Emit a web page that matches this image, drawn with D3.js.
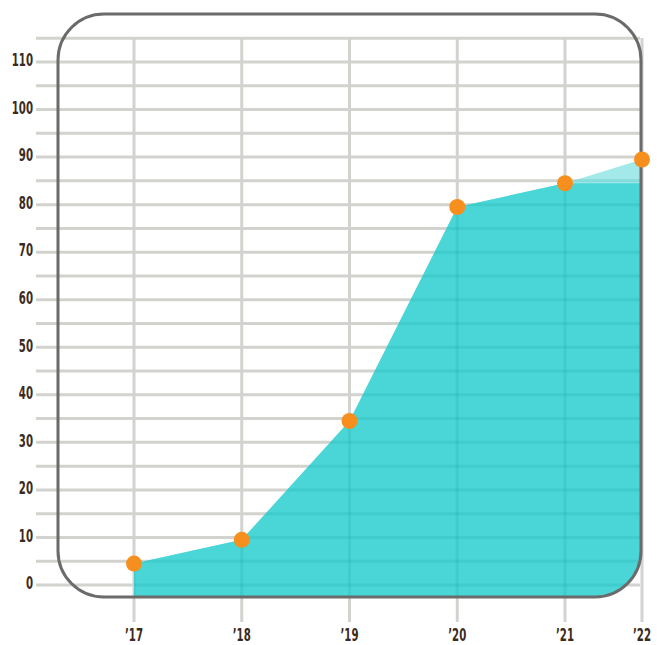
<!DOCTYPE html>
<meta charset="utf-8">
<style>
body { margin: 0; background: #fff; }
.grid line { stroke: #d2d2ce; stroke-width: 3px; }
.grid-over line { stroke: #1fa9aa; stroke-opacity: 0.22; stroke-width: 3px; }
.tick-label {
  font: bold 17px "DejaVu Sans", sans-serif;
  fill: #3b2a20;
}
</style>
<svg width="662" height="645"></svg>
<script src="https://cdn.jsdelivr.net/npm/d3@7/dist/d3.min.js"></script>
<script>
// values
var years = [2017, 2018, 2019, 2020, 2021, 2022];
var yearLabels = ["’17", "’18", "’19", "’20", "’21", "’22"];
var values = [4.5, 9.5, 34.5, 79.5, 84.5, 89.5];
var yTicks = [0, 10, 20, 30, 40, 50, 60, 70, 80, 90, 100, 110];
var gridSteps = d3.range(0, 120, 5);

var svg = d3.select("svg");

// the last year sits squeezed at the right edge of the frame
var x = d3.scaleLinear().domain([2017, 2021, 2022]).range([134, 565, 642]);
var y = d3.scaleLinear().domain([0, 110]).range([585, 62]);

var frame = {x: 58, y: 14, w: 583, h: 583, r: 46};

var data = years.map(function(yr, i) { return {year: yr, v: values[i]}; });

var area = d3.area()
    .x(function(d) { return x(d.year); })
    .y0(frame.y + frame.h)
    .y1(function(d) { return y(d.v); });

var defs = svg.append("defs");
defs.append("clipPath").attr("id", "frame-clip")
  .append("rect")
    .attr("x", frame.x).attr("y", frame.y)
    .attr("width", frame.w).attr("height", frame.h)
    .attr("rx", frame.r).attr("ry", frame.r);

defs.append("clipPath").attr("id", "area-clip")
  .append("path")
    .datum(data)
    .attr("d", area);

// darker fill everywhere except the wedge above the '21 level on the last stretch
var dark = defs.append("clipPath").attr("id", "dark-clip");
dark.append("rect")
    .attr("x", 0).attr("y", 0)
    .attr("width", x(2021)).attr("height", 645);
dark.append("rect")
    .attr("x", x(2021)).attr("y", y(values[4]))
    .attr("width", 662 - x(2021)).attr("height", 645);

function drawGrid(g) {
  g.selectAll(".h").data(gridSteps).enter().append("line")
      .attr("x1", 36).attr("x2", 640)
      .attr("y1", function(d) { return y(d); })
      .attr("y2", function(d) { return y(d); });
  g.selectAll(".v").data(years).enter().append("line")
      .attr("x1", function(d) { return x(d); })
      .attr("x2", function(d) { return x(d); })
      .attr("y1", 38).attr("y2", 622);
}

// gridlines
svg.append("g").attr("class", "grid").call(drawGrid);

var areaG = svg.append("g").attr("clip-path", "url(#frame-clip)");
areaG.append("path")
    .datum(data)
    .attr("d", area)
    .attr("fill", "#a3e9e9");
areaG.append("g").attr("clip-path", "url(#dark-clip)")
  .append("path")
    .datum(data)
    .attr("d", area)
    .attr("fill", "#4ad6d7");

// gridlines showing faintly through the fill
areaG.append("g")
    .attr("clip-path", "url(#area-clip)")
  .append("g")
    .attr("class", "grid-over")
    .call(drawGrid);

// frame
svg.append("rect")
    .attr("x", frame.x).attr("y", frame.y)
    .attr("width", frame.w).attr("height", frame.h)
    .attr("rx", frame.r).attr("ry", frame.r)
    .attr("fill", "none")
    .attr("stroke", "#6b6b6b")
    .attr("stroke-width", 3);

// points
svg.selectAll(".dot").data(data).enter().append("circle")
    .attr("cx", function(d) { return x(d.year); })
    .attr("cy", function(d) { return y(d.v); })
    .attr("r", 8)
    .attr("fill", "#f78f1e");

// y labels (narrowed to mimic the condensed face)
svg.selectAll(".ylab").data(yTicks).enter().append("text")
    .attr("class", "tick-label")
    .attr("transform", function(d) { return "translate(33," + y(d) + ") scale(0.6,1)"; })
    .attr("dy", "0.25em")
    .attr("text-anchor", "end")
    .text(function(d) { return d; });

// x labels
svg.selectAll(".xlab").data(years).enter().append("text")
    .attr("class", "tick-label")
    .attr("transform", function(d) { return "translate(" + x(d) + ",641) scale(0.6,1)"; })
    .attr("text-anchor", "middle")
    .text(function(d, i) { return yearLabels[i]; });
</script>
